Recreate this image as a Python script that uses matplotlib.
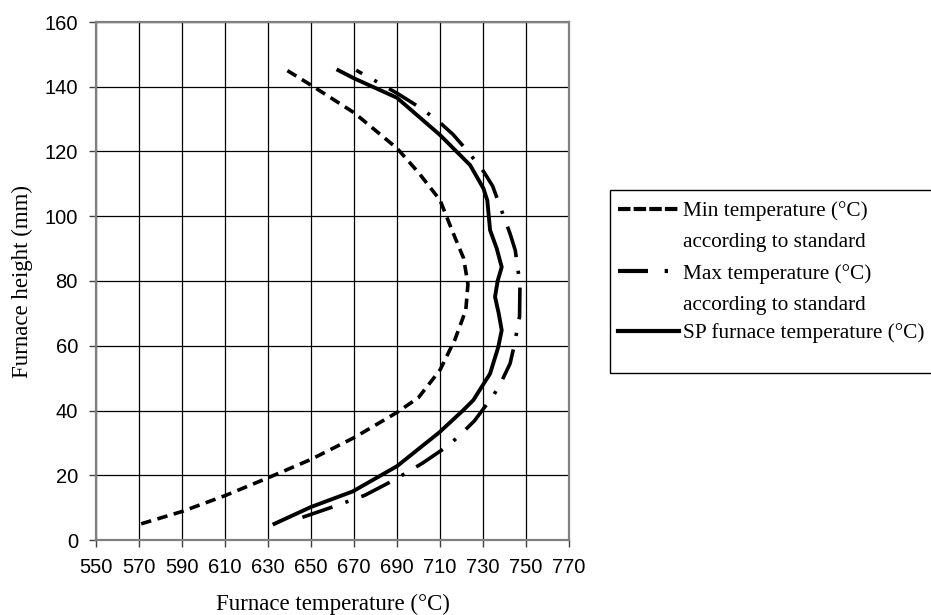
import matplotlib
matplotlib.use("Agg")
import matplotlib.pyplot as plt
from matplotlib.lines import Line2D
from matplotlib.patches import Rectangle

# Data (furnace height in mm, temperature in °C)
h_min = [5, 8.8, 13.7, 19.2, 24.9, 31.6, 39.4, 44, 52.5, 62, 71, 79, 87, 95, 105, 113.5, 121, 132, 140.5, 145]
T_min = [571, 590, 610, 630, 650, 670, 690, 700, 710, 717, 722, 723, 721, 716, 710, 700, 690, 670, 650, 639]

h_max = [7, 10.2, 13.8, 18.3, 21, 23.8, 29.2, 33.2, 36.8, 44.8, 49.5, 54.5, 60, 69, 79, 89.5, 94.6,
         102.9, 109.3, 113.9, 120, 125.3, 128.9, 133, 137.6, 140.3, 145.1]
T_max = [646, 660, 675, 688, 695, 702, 714, 720.5, 726, 735, 739, 742.6, 744.5, 747, 747.2, 745, 742.6,
         738, 734.5, 730.2, 723, 716, 710, 702, 691, 684, 671]

h_sp = [5, 10.2, 15, 22.8, 33.2, 39.9, 43.2, 51.4, 59.6, 64.8, 70, 75.1, 80, 84.3, 90, 95.7, 104.9,
        108.6, 115.8, 125.1, 136.6, 142.6, 145.1]
T_sp = [633, 650, 669.4, 690, 709.6, 720.5, 725.5, 733.3, 737.1, 738.7, 737.3, 735.6, 736.8, 738.7, 736.4,
        733.3, 732, 730.2, 724, 710, 690, 670, 662.7]

x_ticks = list(range(550, 771, 20))
y_ticks = list(range(0, 161, 20))

labels = [["Min temperature (°C)", "according to standard"],
          ["Max temperature (°C)", "according to standard"],
          ["SP furnace temperature (°C)"]]

W, H = 931, 615
fig = plt.figure(figsize=(W / 100, H / 100), dpi=100)
ax = fig.add_axes([96 / W, 1 - 540 / H, (569 - 96) / W, (540 - 22) / H])

lw = 2.6
styles = [(0, (2.9, 1.8)), (0, (8.8, 3.8, 0.9, 3.8)), "-"]
ax.plot(T_min, h_min, color="black", lw=lw, linestyle=styles[0], dash_capstyle="butt")
ax.plot(T_max, h_max, color="black", lw=lw, linestyle=styles[1], dash_capstyle="butt")
ax.plot(T_sp, h_sp, color="black", lw=lw + 0.2, linestyle=styles[2])

ax.set_xlim(550, 770)
ax.set_ylim(0, 160)
ax.set_xticks(x_ticks)
ax.set_yticks(y_ticks)
ax.grid(True, color="black", lw=0.9)
ax.set_axisbelow(True)
for s in ax.spines.values():
    s.set_color("#808080")
    s.set_linewidth(1.6)
ax.tick_params(direction="out", length=5, width=1.0, color="#404040", labelsize=14.5)
ax.tick_params(axis="x", pad=8)
ax.tick_params(axis="y", pad=8)
for t in ax.get_xticklabels() + ax.get_yticklabels():
    t.set_fontfamily("Liberation Sans")

ax.set_xlabel("Furnace temperature (°C)", fontsize=16.5, fontfamily="Liberation Serif", labelpad=12)
ax.set_ylabel("Furnace height (mm)", fontsize=16.5, fontfamily="Liberation Serif", labelpad=8)

# Legend (drawn in figure pixel coordinates)
def fx(px):
    return px / W

def fy(py):
    return 1 - py / H

fig.add_artist(Rectangle((fx(610), fy(373)), 330 / W, (373 - 190) / H, transform=fig.transFigure,
                         fill=False, edgecolor="black", lw=1.0))
handle_y = [209, 271, 331]
baselines = [[216, 247], [279, 310], [338]]
handle_styles = [(0, (3.0, 0.75)), (0, (7.2, 4.0, 0.8, 20)), "-"]
for i in range(3):
    fig.add_artist(Line2D([fx(618), fx(679)], [fy(handle_y[i])] * 2, transform=fig.transFigure,
                          color="black", lw=3.0, linestyle=handle_styles[i], dash_capstyle="butt"))
    for line, b in zip(labels[i], baselines[i]):
        fig.text(fx(683), fy(b), line, fontsize=15.3, fontfamily="Liberation Serif", va="baseline", ha="left")

fig.savefig("out.png", dpi=100)
